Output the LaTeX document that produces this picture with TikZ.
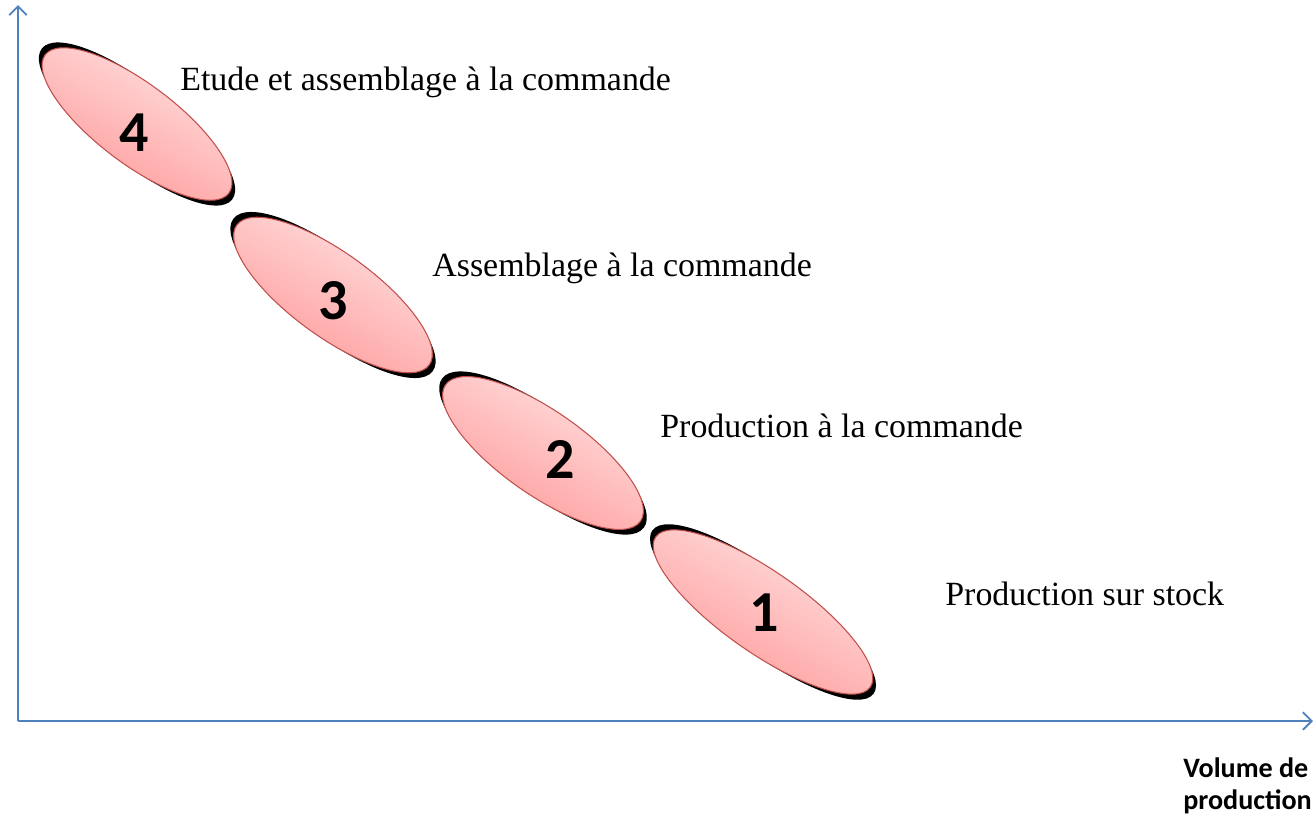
\documentclass[tikz,border=0pt]{standalone}
\usepackage{fontspec}
\setmainfont{Liberation Serif}
\newfontfamily\calibri{Carlito}
\usetikzlibrary{shapes.geometric,arrows.meta}
\definecolor{axe}{RGB}{79,129,189}
\definecolor{bord}{RGB}{192,80,77}
\definecolor{rosec}{RGB}{255,228,228}
\definecolor{rosef}{RGB}{255,150,150}
\begin{document}
\begin{tikzpicture}[x=0.02cm,y=-0.02cm,
	>={Straight Barb[length=5pt,width=10pt]},
	bulle/.style={ellipse, draw=bord, line width=0.6pt, inner sep=0pt,
		top color=rosec, bottom color=rosef, shading angle=-28},
	ombre/.style={black},
	chiffre/.style={font=\calibri\bfseries\fontsize{33}{36}\selectfont},
	etiquette/.style={anchor=base west, inner sep=0pt, font=\fontsize{19.3}{23}\selectfont}]
	\useasboundingbox (0,0) rectangle (1313,816);
	% axes
	\coordinate (origine) at (18,721);
	\coordinate (haut) at (18,5);
	\coordinate (droite) at (1313,721);
	\draw[axe, line width=1.1pt, ->] (origine) -- (haut);
	\draw[axe, line width=1.1pt, ->] (origine) -- (droite);
	\node[font=\calibri\bfseries\fontsize{16}{18.7}\selectfont, align=left, anchor=north west, inner sep=0pt] (volume) at (1183,757) {Volume de\\production};
	% ellipses
	\coordinate (c4) at (137,124);
	\coordinate (c3) at (333,295);
	\coordinate (c2) at (543,453);
	\coordinate (c1) at (763,612);
	\foreach \c/\a/\b/\r in {c4/2.3/0.8/-37, c3/2.38/0.84/-36, c2/2.38/0.84/-35, c1/2.62/0.81/-35} {
		\pgfmathsetmacro\ra{\a+0.13}
		\pgfmathsetmacro\rb{\b-0.02}
		\pgfmathsetmacro\rr{\r-1.5}
		\pgfmathsetmacro\w{2*\a}
		\pgfmathsetmacro\h{2*\b}
		\fill[ombre, rotate around={\rr:(\c)}] (\c) ellipse [x radius=\ra cm, y radius=\rb cm];
		\node[bulle, minimum width=\w cm, minimum height=\h cm, rotate=\r] (e\c) at (\c) {};
	}
	\node[chiffre] (n4) at (134,133) {4};
	\node[chiffre] (n3) at (333,301) {3};
	\node[chiffre] (n2) at (560,459) {2};
	\node[chiffre] (n1) at (764,613) {1};
	% textes
	\node[etiquette] (t4) at (180,90) {Etude et assemblage à la commande};
	\node[etiquette] (t3) at (432,276) {Assemblage à la commande};
	\node[etiquette] (t2) at (660,437) {Production à la commande};
	\node[etiquette] (t1) at (945,605) {Production sur stock};
\end{tikzpicture}
\end{document}
